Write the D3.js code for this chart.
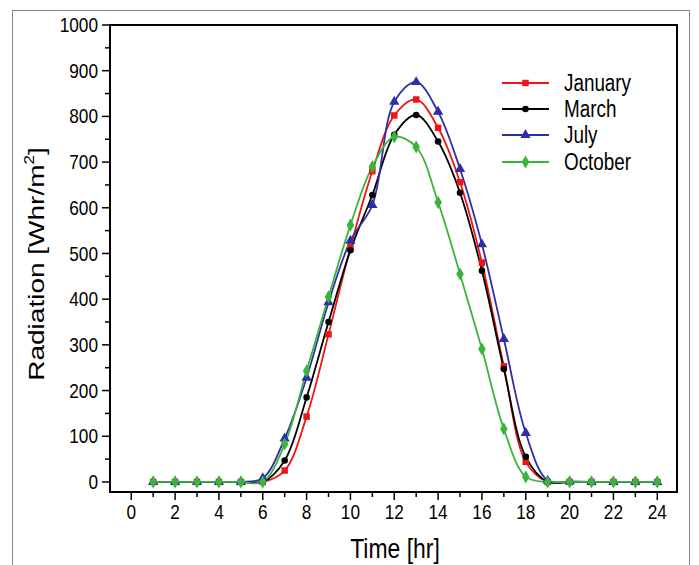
<!DOCTYPE html>
<html><head><meta charset="utf-8">
<script src="https://cdn.jsdelivr.net/npm/d3@7"></script>
<style>body{margin:0;background:#fff}svg{display:block}text{font-family:"Liberation Sans",Arial,sans-serif;fill:#000}</style>
</head><body><svg id="c" width="699" height="565"></svg>
<script>
const hours = [1,2,3,4,5,6,7,8,9,10,11,12,13,14,15,16,17,18,19,20,21,22,23,24];
const january = [0,0,0,0,0,0,25,143,323,513,680,802,837,775,656,480,253,44,0,0,0,0,0,0];
const march   = [0,0,0,0,0,0,47,185,350,507,628,760,803,745,633,462,247,55,0,0,0,0,0,0];
const july    = [0,0,0,0,0,8,95,228,393,528,606,832,875,810,685,520,313,107,3,1,0,0,0,0];
const october = [0,0,0,0,0,0,83,243,405,562,690,755,733,612,455,291,116,11,0,0,0,0,0,0];
const seriesNames = ["January","March","July","October"];
const xTicks = [0,2,4,6,8,10,12,14,16,18,20,22,24];
const yTicks = [0,100,200,300,400,500,600,700,800,900,1000];

const series = [
  {name:seriesNames[0], values:january, color:"#f01414", symbol:d3.symbolSquare, size:42},
  {name:seriesNames[1], values:march,   color:"#000000", symbol:d3.symbolCircle, size:34},
  {name:seriesNames[2], values:july,    color:"#2e2ea8", symbol:d3.symbolTriangle, size:46},
  {name:seriesNames[3], values:october, color:"#3cb43c", symbol:d3.symbolDiamond, size:50}
];

const svg = d3.select("#c");
const L=110, R=677, T=25, B=492, SX=0.82;
const x = d3.scaleLinear().domain([-0.97,24.9]).range([L,R]);
const y = d3.scaleLinear().domain([-22,1000]).range([B,T]);

svg.append("rect").attr("x",12.5).attr("y",10.5).attr("width",677).attr("height",560)
  .attr("fill","none").attr("stroke","#8a8a8a").attr("stroke-width",1);

svg.append("rect").attr("x",L).attr("y",T).attr("width",R-L).attr("height",B-T)
  .attr("fill","none").attr("stroke","#000").attr("stroke-width",2);

function txt(g, xx, yy, s, size, anchor, rot){
  const t = g.append("text").attr("transform",`translate(${xx},${yy}) scale(${SX},1)`+(rot?` rotate(${rot})`:""))
    .attr("font-size",size).attr("text-anchor",anchor).attr("dominant-baseline","central");
  return t.text(s);
}

const ax = svg.append("g");
d3.range(0,25,1).forEach(h=>{
  const major = h%2===0;
  ax.append("line").attr("x1",x(h)).attr("x2",x(h)).attr("y1",B).attr("y2",B+(major?8:5))
    .attr("stroke","#000").attr("stroke-width",1.5);
});
xTicks.forEach(h=> txt(ax, x(h), 512, String(h), 21, "middle"));
d3.range(0,1001,50).forEach(v=>{
  const major = v%100===0;
  ax.append("line").attr("x1",L).attr("x2",L-(major?8:5)).attr("y1",y(v)).attr("y2",y(v))
    .attr("stroke","#000").attr("stroke-width",1.5);
});
yTicks.forEach(v=> txt(ax, L-12, y(v), String(v), 21, "end"));

txt(svg, 395, 548, "Time [hr]", 28, "middle");
const yl = svg.append("text").attr("transform",`translate(36,264) scale(${SX},1) rotate(-90)`)
  .attr("font-size",28).attr("text-anchor","middle").attr("dominant-baseline","central");
yl.append("tspan").text("Radiation [Whr/m");
yl.append("tspan").attr("font-size",17).attr("dy",-9).text("2");
yl.append("tspan").attr("dy",9).text("]");

const line = d3.line().x((d,i)=>x(hours[i])).y(d=>y(d)).curve(d3.curveCatmullRom.alpha(0.5));
series.forEach(s=>{
  svg.append("path").datum(s.values).attr("d",line).attr("fill","none")
    .attr("stroke",s.color).attr("stroke-width",1.8);
});
series.forEach(s=>{
  svg.append("g").selectAll("path").data(s.values).join("path")
    .attr("d",d3.symbol().type(s.symbol).size(s.size))
    .attr("transform",(d,i)=>`translate(${x(hours[i])},${y(d)})`)
    .attr("fill",s.color);
});

const lg = svg.append("g");
const ly = [83,109,135,162];
series.forEach((s,i)=>{
  lg.append("line").attr("x1",502).attr("x2",549).attr("y1",ly[i]).attr("y2",ly[i])
    .attr("stroke",s.color).attr("stroke-width",1.8);
  lg.append("path").attr("d",d3.symbol().type(s.symbol).size(s.size)())
    .attr("transform",`translate(525.5,${ly[i]})`).attr("fill",s.color);
  txt(lg, 564, ly[i], s.name, 23, "start");
});
</script></body></html>
